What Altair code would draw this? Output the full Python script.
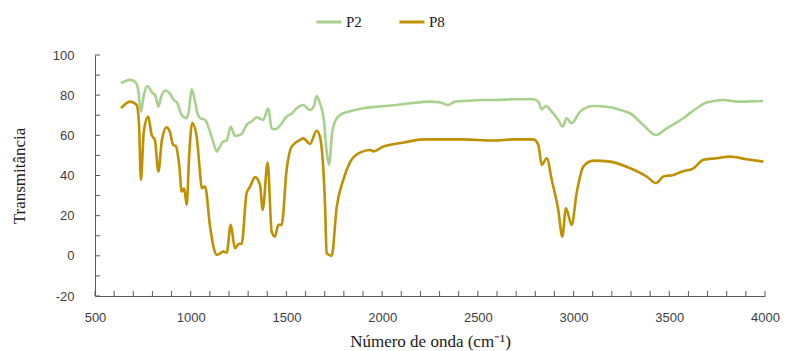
import altair as alt
import pandas as pd

p2_wn = [636, 683, 709, 725, 740, 755, 773, 801, 815, 831, 845, 866, 890, 909, 930, 953, 979, 990,
         1005, 1020, 1035, 1049, 1075, 1100, 1120, 1136, 1150, 1170, 1188, 1209, 1231, 1250, 1266,
         1292, 1320, 1345, 1379, 1405, 1423, 1440, 1458, 1501, 1530, 1554, 1588, 1623, 1645, 1658,
         1675, 1695, 1710, 1722, 1740, 1763, 1797, 1823, 1902, 2000, 2076, 2150, 2250, 2300, 2346,
         2381, 2450, 2511, 2600, 2685, 2790, 2816, 2834, 2856, 2886, 2920, 2943, 2964, 2990, 3034,
         3103, 3190, 3250, 3295, 3364, 3431, 3487, 3573, 3643, 3695, 3782, 3850, 3887, 3950, 3991]
p2_val = [85.9, 87.6, 86.7, 83, 71.8, 80, 84.6, 81, 80, 74.3, 79, 82.3, 81, 78, 76, 70.1, 68.5, 72,
          82.9, 78, 71, 68.5, 67.7, 62, 56, 51.9, 54, 56.9, 57.5, 64.3, 59.7, 60, 60.7,
          65.2, 67, 69, 67.7, 73.5, 63.5, 63, 64, 69.3, 71, 73.5, 75.1, 72.6, 75, 79.6,
          76, 68, 52, 45.3, 62, 68.5, 71, 71.8, 73.5, 74.5, 75.1, 76, 76.8, 76.5, 75.1,
          76.8, 77.2, 77.6, 77.6, 78, 78, 76.8, 73, 74.6, 71.8, 67.7, 64.3, 68.5, 66, 71.8,
          74.6, 74, 72.5, 71, 65.2, 60.2, 63.5, 68.5, 73.5, 76.3, 77.6, 76.8, 76.8, 77, 77.1]

p8_wn = [636, 683, 718, 730, 740, 755, 778, 796, 813, 831, 850, 874, 890, 909, 922, 940, 953, 966,
         979, 992, 1008, 1031, 1050, 1057, 1075, 1101, 1120, 1136, 1150, 1170, 1188, 1209, 1231,
         1252, 1266, 1292, 1310, 1336, 1362, 1376, 1402, 1423, 1440, 1458, 1475, 1501, 1527, 1571,
         1588, 1623, 1658, 1675, 1702, 1710, 1736, 1763, 1797, 1832, 1884, 1937, 1954, 2006, 2111,
         2215, 2424, 2581, 2685, 2790, 2816, 2834, 2860, 2886, 2920, 2941, 2960, 2990, 3016, 3051,
         3103, 3190, 3277, 3382, 3431, 3469, 3521, 3565, 3626, 3678, 3748, 3817, 3904, 3991]
p8_val = [73.5, 76.8, 75.1, 65, 37.8, 62, 69.3, 60.2, 57.7, 42, 58, 64, 62, 55.2, 54.7, 45, 32, 33.5,
          25.4, 50, 66.3, 59.4, 40, 33.7, 34.5, 14.6, 4, 0.5, 1, 2.1, 1.5, 15.4, 3.8,
          6, 6, 31.2, 34.5, 39.2, 35.3, 22.9, 46.4, 12, 9.6, 15.4, 15.4, 42.8, 54.4, 57.7,
          58.5, 55.7, 62.3, 59.4, 24.5, 1.3, 0, 24.5, 37.8, 46.5, 51.4, 52.7, 52, 54.4, 56.4,
          58, 58, 57.4, 58, 58, 55.2, 45.3, 48.6, 37.8, 22.9, 9.6, 23.7, 15.4, 31.2, 44.4,
          47.4, 46.9, 44.4, 39.5, 36.2, 39.5, 40.3, 41.9, 43.6, 47.8, 48.6, 49.4, 48.1, 46.9]

series_names = ["P2", "P8"]
series_colors = ["#A9D18E", "#BF9000"]
x_labels = [500, 1000, 1500, 2000, 2500, 3000, 3500, 4000]
y_labels = [-20, 0, 20, 40, 60, 80, 100]
x_minor = list(range(500, 4001, 100))
y_minor = list(range(-20, 101, 10))

df = pd.concat([
    pd.DataFrame({"series": "P2", "wn": p2_wn, "v": p2_val, "order": range(len(p2_wn))}),
    pd.DataFrame({"series": "P8", "wn": p8_wn, "v": p8_val, "order": range(len(p8_wn))}),
])
xt = pd.DataFrame({"t": x_minor})
yt = pd.DataFrame({"t": y_minor})

W, H = 670, 241
axis_color = "#595959"
label_font = "Liberation Sans"
serif = "Liberation Serif"

xscale = alt.Scale(domain=[500, 4000], nice=False, zero=False)
yscale = alt.Scale(domain=[-20, 100], nice=False, zero=False)

lines = alt.Chart(df).mark_line(strokeWidth=2.6, interpolate="monotone").encode(
    x=alt.X("wn:Q", scale=xscale,
            axis=alt.Axis(values=x_labels, tickSize=0, grid=False, domainColor=axis_color,
                          labelExpr="'' + datum.value", labelFlush=False,
                          labelFont=label_font, labelFontSize=13, labelColor="#404040",
                          labelPadding=15, title="Número de onda (cm⁻¹)", titleFont=serif,
                          titleFontSize=17, titleFontWeight="normal", titleColor="#202020",
                          titlePadding=9)),
    y=alt.Y("v:Q", scale=yscale,
            axis=alt.Axis(values=y_labels, tickSize=0, grid=False, domainColor=axis_color,
                          labelExpr="'' + datum.value",
                          labelFont=label_font, labelFontSize=13, labelColor="#404040",
                          labelPadding=21, title="Transmitância", titleFont=serif,
                          titleFontSize=17, titleFontWeight="normal", titleColor="#202020",
                          titlePadding=24)),
    color=alt.Color("series:N",
                    scale=alt.Scale(domain=series_names, range=series_colors),
                    legend=alt.Legend(title=None, orient="none", direction="horizontal",
                                      legendX=220, legendY=-47, symbolType="stroke",
                                      symbolSize=625, symbolStrokeWidth=3,
                                      labelFont=serif, labelFontSize=15, labelColor="#202020",
                                      labelOffset=3, columnPadding=31)),
    order="order:Q",
)

xticks = alt.Chart(xt).mark_rule(color=axis_color, strokeWidth=1).encode(
    x=alt.X("t:Q", scale=xscale, axis=None),
    y=alt.value(H),
    y2=alt.value(H - 5),
)
yticks = alt.Chart(yt).mark_rule(color=axis_color, strokeWidth=1).encode(
    y=alt.Y("t:Q", scale=yscale, axis=None),
    x=alt.value(0),
    x2=alt.value(5),
)

chart = alt.layer(lines, xticks, yticks).resolve_axis(x="independent", y="independent").properties(
    width=W, height=H,
    autosize=alt.AutoSizeParams(type="none"),
    padding={"left": 95, "top": 55, "right": 22, "bottom": 55},
).configure_view(stroke=None)

chart.save("out.html", embed_options={"renderer": "svg", "actions": False})
